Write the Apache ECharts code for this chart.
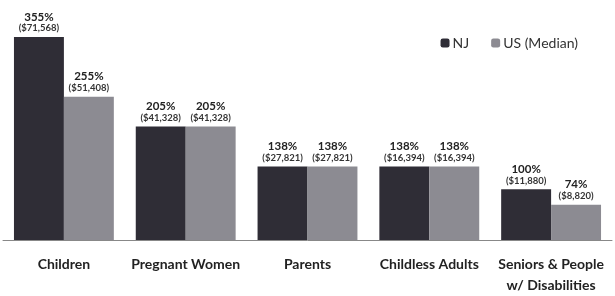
<!DOCTYPE html>
<html>
<head>
<meta charset="utf-8">
<script src="https://cdn.jsdelivr.net/npm/echarts@6/dist/echarts.min.js"></script>
<style>
  html, body { margin: 0; padding: 0; background: #fff; }
  #chart { width: 615px; height: 296px; }
</style>
</head>
<body>
<div id="chart"></div>
<script>
 var categories = ['Children', 'Pregnant Women', 'Parents', 'Childless Adults', 'Seniors & People\nw/ Disabilities'];
 var njValues = [355, 205, 138, 138, 100];
 var usValues = [255, 205, 138, 138, 74];
 var njIncome = ['$71,568', '$41,328', '$27,821', '$16,394', '$11,880'];
 var usIncome = ['$51,408', '$41,328', '$27,821', '$16,394', '$8,820'];

 function makeLabel(incomes) {
     return {
         show: true,
         position: 'top',
         distance: 3,
         formatter: function (p) {
             return '{pct|' + p.value + '%}\n{usd|(' + incomes[p.dataIndex] + ')}';
         },
         rich: {
             pct: { fontFamily: 'Lato', fontWeight: 'bold', fontSize: 11.5, color: '#222', lineHeight: 12 },
             usd: { fontFamily: 'Lato', fontWeight: 'bold', fontSize: 9.5, color: '#333', lineHeight: 11 }
         }
     };
 }

 var myChart = echarts.init(document.getElementById('chart'));

 var option = {
     animation: false,
     legend: {
         top: 31,
         right: 32,
         itemWidth: 9,
         itemHeight: 9,
         itemGap: 22,
         textStyle: { fontFamily: 'Lato', fontSize: 14, color: '#333', padding: [0, 0, 0, -2] },
         data: ['NJ', 'US (Median)']
     },
     grid: { left: 3, right: 3, top: 22, bottom: 49 },
     xAxis: {
         type: 'category',
         data: categories,
         axisLine: { lineStyle: { color: '#888', width: 1 } },
         axisTick: { show: false },
         axisLabel: {
             margin: 14,
             interval: 0,
             fontFamily: 'Lato',
             fontWeight: 'bold',
             fontSize: 14,
             color: '#222',
             lineHeight: 21
         }
     },
     yAxis: {
         type: 'value',
         min: 15,
         max: 380,
         show: false,
         splitLine: { show: false }
     },
     series: [
         {
             name: 'NJ',
             type: 'bar',
             data: njValues,
             barGap: '0%',
             barCategoryGap: '18%',
             itemStyle: { color: '#2f2d36' },
             label: makeLabel(njIncome)
         },
         {
             name: 'US (Median)',
             type: 'bar',
             data: usValues,
             itemStyle: { color: '#8c8b92' },
             label: makeLabel(usIncome)
         }
     ]
 };

 myChart.setOption(option);
</script>
</body>
</html>
